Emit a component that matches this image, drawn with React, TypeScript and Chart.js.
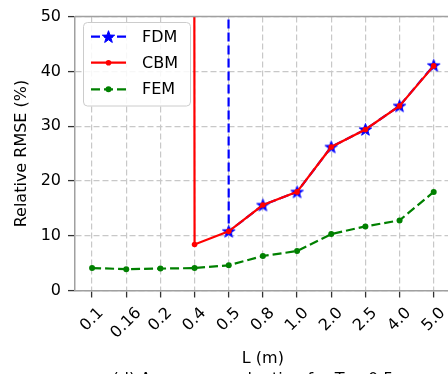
import React, { useEffect, useRef } from "react";
import { Chart, registerables } from "chart.js";

Chart.register(...registerables);

// ---- data ----
const categories = ["0.1", "0.16", "0.2", "0.4", "0.5", "0.8", "1.0", "2.0", "2.5", "4.0", "5.0"];
// huge values where the method diverges (far above the visible 0-50 range)
const fdmValues = [10000, 10000, 10000, 10000, 10.8, 15.6, 18.0, 26.2, 29.4, 33.7, 41.1];
const cbmValues = [10000, 10000, 10000, 8.4, 10.8, 15.6, 18.0, 26.2, 29.4, 33.7, 41.0];
const femValues = [4.1, 3.9, 4.0, 4.1, 4.6, 6.3, 7.2, 10.3, 11.7, 12.8, 18.0];
const yTicks = [0, 10, 20, 30, 40, 50];
const seriesNames = ["FDM", "CBM", "FEM"];
const xTitle = "L (m)";
const yTitle = "Relative RMSE (%)";
const caption = "(d) Accuracy evaluation for T = 0.5";

const FONT = '"DejaVu Sans", sans-serif';
const GRID = "#c8c8c8";
const SPINE = "#a0a0a0";
const TICK = "#333333";
const BLUE = "#0000ff";
const RED = "#ff0000";
const GREEN = "#008000";
const DASH = [9, 4];

function drawStar(ctx: CanvasRenderingContext2D, cx: number, cy: number, R: number, color: string) {
  const r = R * 0.4;
  ctx.beginPath();
  for (let i = 0; i < 10; i++) {
    const a = -Math.PI / 2 + (i * Math.PI) / 5;
    const rr = i % 2 === 0 ? R : r;
    const px = cx + rr * Math.cos(a);
    const py = cy + rr * Math.sin(a);
    if (i === 0) ctx.moveTo(px, py);
    else ctx.lineTo(px, py);
  }
  ctx.closePath();
  ctx.fillStyle = color;
  ctx.fill();
  ctx.lineWidth = 1;
  ctx.strokeStyle = color;
  ctx.stroke();
}

function makeStar(R: number, color: string) {
  const size = Math.ceil(R * 2 + 4);
  const c = document.createElement("canvas");
  c.width = size;
  c.height = size;
  const ctx = c.getContext("2d")!;
  drawStar(ctx, size / 2, size / 2 + 0.5, R, color);
  return c;
}

function drawDot(ctx: CanvasRenderingContext2D, x: number, y: number, r: number, color: string) {
  ctx.beginPath();
  ctx.arc(x, y, r, 0, Math.PI * 2);
  ctx.fillStyle = color;
  ctx.fill();
}

const decorPlugin = {
  id: "decor",
  afterDraw(chart: any) {
    const { ctx, chartArea: ca, scales } = chart;
    const xs = scales.x;
    ctx.save();
    // top spine
    ctx.strokeStyle = SPINE;
    ctx.lineWidth = 1.5;
    ctx.setLineDash([]);
    ctx.beginPath();
    ctx.moveTo(ca.left, ca.top);
    ctx.lineTo(ca.right, ca.top);
    ctx.stroke();

    // x tick labels rotated 45deg, centered under tick
    ctx.font = `16px ${FONT}`;
    ctx.fillStyle = "#000";
    ctx.textAlign = "center";
    ctx.textBaseline = "middle";
    categories.forEach((c, i) => {
      const px = xs.getPixelForValue(i);
      const w = ctx.measureText(c).width;
      const H = 18.6;
      const cy = ca.bottom + 13.5 + (w + H) / (2 * Math.SQRT2);
      ctx.save();
      ctx.translate(px, cy);
      ctx.rotate(-Math.PI / 4);
      ctx.fillText(c, 0, 0);
      ctx.restore();
    });

    // x title
    ctx.fillText(xTitle, (ca.left + ca.right) / 2, 359);

    // caption (cut off at bottom)
    ctx.textBaseline = "alphabetic";
    ctx.fillText(caption, 253, 384);

    // y title
    ctx.save();
    ctx.translate(22, (ca.top + ca.bottom) / 2);
    ctx.rotate(-Math.PI / 2);
    ctx.textBaseline = "middle";
    ctx.fillText(yTitle, 0, 0);
    ctx.restore();

    // legend
    const bx = 83.5, by = 22.5, bw = 107, bh = 83.5, rad = 4;
    ctx.beginPath();
    ctx.moveTo(bx + rad, by);
    ctx.lineTo(bx + bw - rad, by);
    ctx.arcTo(bx + bw, by, bx + bw, by + rad, rad);
    ctx.lineTo(bx + bw, by + bh - rad);
    ctx.arcTo(bx + bw, by + bh, bx + bw - rad, by + bh, rad);
    ctx.lineTo(bx + rad, by + bh);
    ctx.arcTo(bx, by + bh, bx, by + bh - rad, rad);
    ctx.lineTo(bx, by + rad);
    ctx.arcTo(bx, by, bx + rad, by, rad);
    ctx.closePath();
    ctx.fillStyle = "rgba(255,255,255,0.85)";
    ctx.fill();
    ctx.strokeStyle = "#cccccc";
    ctx.lineWidth = 1;
    ctx.stroke();

    const rows = [36.7, 62.7, 89.3];
    const colors = [BLUE, RED, GREEN];
    const dashes = [DASH, [], DASH];
    rows.forEach((ry, i) => {
      ctx.strokeStyle = colors[i];
      ctx.lineWidth = 2.2;
      ctx.setLineDash(dashes[i]);
      ctx.beginPath();
      ctx.moveTo(91, ry);
      ctx.lineTo(126, ry);
      ctx.stroke();
      ctx.setLineDash([]);
      if (i === 0) drawStar(ctx, 108.5, ry + 0.5, 6.5, BLUE);
      else drawDot(ctx, 108.5, ry, i === 1 ? 2.8 : 3, colors[i]);
      ctx.fillStyle = "#000";
      ctx.textAlign = "left";
      ctx.textBaseline = "middle";
      ctx.font = `16px ${FONT}`;
      ctx.fillText(seriesNames[i], 142, ry + 1);
    });
    ctx.restore();
  },
};

export default function App() {
  const ref = useRef<HTMLCanvasElement>(null);
  useEffect(() => {
    document.body.style.margin = "0";
    const canvas = ref.current!;
    const star = makeStar(6.5, BLUE);
    const chart = new Chart(canvas, {
      type: "line",
      data: {
        labels: categories,
        datasets: [
          {
            label: seriesNames[0],
            data: fdmValues,
            borderColor: BLUE,
            backgroundColor: BLUE,
            borderWidth: 2.2,
            borderDash: DASH,
            pointStyle: star as any,
            pointRadius: 7,
            order: 3,
            tension: 0,
          },
          {
            label: seriesNames[1],
            data: cbmValues,
            borderColor: RED,
            backgroundColor: RED,
            pointBackgroundColor: RED,
            pointBorderColor: RED,
            borderWidth: 2.2,
            pointStyle: "circle",
            pointRadius: 2.8,
            pointBorderWidth: 0,
            order: 2,
            tension: 0,
          },
          {
            label: seriesNames[2],
            data: femValues,
            borderColor: GREEN,
            backgroundColor: GREEN,
            pointBackgroundColor: GREEN,
            pointBorderColor: GREEN,
            borderWidth: 2.2,
            borderDash: DASH,
            pointStyle: "circle",
            pointRadius: 3,
            pointBorderWidth: 0,
            order: 1,
            tension: 0,
          },
        ],
      },
      options: {
        responsive: false,
        animation: false,
        devicePixelRatio: 1,
        layout: { padding: { top: 14, right: 460 - 451.5, left: 0, bottom: 0 } },
        plugins: { legend: { display: false }, tooltip: { enabled: false } },
        scales: {
          x: {
            type: "category",
            offset: true,
            grid: {
              color: GRID,
              lineWidth: 1.2,
              tickLength: 7,
              tickColor: TICK,
              tickWidth: 1.3,
            },
            border: { color: SPINE, width: 1.5, dash: [6, 3] },
            ticks: { display: false },
            afterFit: (s: any) => {
              s.height = 374 - 290.5;
            },
          },
          y: {
            min: 0,
            max: 50,
            grid: {
              color: GRID,
              lineWidth: 1.2,
              tickLength: 7,
              tickColor: TICK,
              tickWidth: 1.3,
            },
            border: { color: SPINE, width: 1.5, dash: [6, 3] },
            ticks: {
              font: { family: FONT, size: 16 },
              color: "#000",
              padding: 7,
            },
            afterBuildTicks: (s: any) => {
              s.ticks = yTicks.map((v) => ({ value: v }));
            },
            afterFit: (s: any) => {
              s.width = 75;
            },
          },
        },
      },
      plugins: [decorPlugin],
    });
    return () => chart.destroy();
  }, []);
  return (
    <div style={{ width: 448, height: 374, overflow: "hidden" }}>
      <canvas ref={ref} width={460} height={374} style={{ display: "block", width: 460, height: 374 }} />
    </div>
  );
}
